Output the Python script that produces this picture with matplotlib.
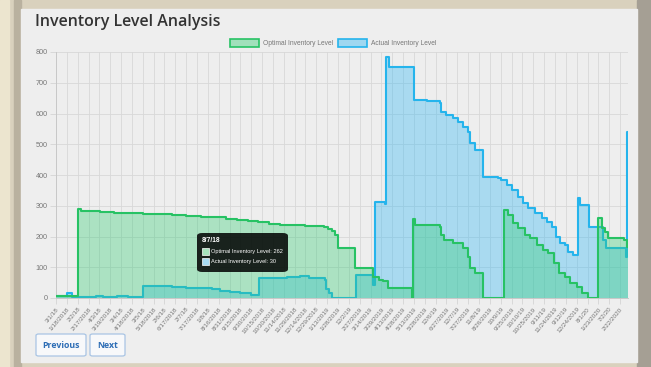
import matplotlib
matplotlib.use("Agg")
import matplotlib.pyplot as plt
from matplotlib.patches import Rectangle, FancyBboxPatch, Patch

# ---------------- data ----------------
tick_labels = ["3/1/18", "1/18/2018", "2/2/18", "2/17/2018", "4/3/18", "3/19/2018", "3/4/18",
               "4/18/2018", "3/5/18", "5/18/2018", "2/6/18", "6/17/2018", "2/7/18", "7/17/2018",
               "1/8/18", "8/16/2018", "8/31/2018", "9/15/2018", "9/30/2018", "10/15/2018",
               "10/30/2018", "11/14/2018", "11/29/2018", "12/14/2018", "12/29/2018", "1/13/2019",
               "1/28/2019", "12/2/19", "2/27/2019", "3/14/2019", "3/29/2019", "4/13/2019",
               "4/28/2019", "5/13/2019", "5/28/2019", "12/6/19", "6/27/2019", "12/7/19",
               "7/27/2019", "11/8/19", "8/26/2019", "10/9/19", "9/25/2019", "10/10/19",
               "10/25/2019", "9/11/19", "11/24/2019", "9/12/19", "12/24/2019", "8/1/20",
               "1/23/2020", "7/2/20", "2/22/2020"]
tick_step_days = 15
last_day = 791

# day index (0 = first date) where a new level starts, and the level
optimal_days = [0, 30, 34, 61, 80, 100, 120, 140, 160, 180, 200, 216, 235, 250, 265, 280,
                295, 310, 325, 345, 370, 376, 381, 386, 390, 414, 438, 446, 452, 459, 492,
                493, 496, 531, 533, 536, 549, 556, 563, 570, 573, 580, 591, 620, 625, 632,
                639, 649, 655, 665, 674, 681, 688, 695, 704, 711, 720, 727, 736, 750, 755,
                759, 764, 786, 789, 791]
optimal_vals = [5, 288, 283, 280, 278, 276, 274, 272, 270, 267, 265, 262, 258, 255, 250, 246,
                242, 239, 236, 234, 232, 225, 218, 205, 162, 97, 69, 60, 56, 31, 0,
                256, 237, 230, 205, 189, 178, 178, 162, 134, 97, 80, 0, 286, 270, 243,
                227, 205, 194, 172, 156, 146, 113, 80, 69, 48, 37, 15, 0, 259, 227,
                216, 194, 189, 167, 167]

actual_days = [0, 15, 22, 55, 65, 85, 100, 120, 140, 160, 180, 200, 216, 227, 240, 255,
               270, 281, 300, 320, 337, 350, 372, 374, 377, 382, 415, 438, 439, 441, 452,
               455, 457, 460, 461, 495, 513, 531, 533, 540, 549, 556, 563, 570, 573, 580,
               591, 611, 616, 623, 630, 639, 646, 653, 662, 672, 679, 686, 692, 697, 704,
               708, 715, 722, 724, 737, 757, 761, 788, 790, 791]
actual_vals = [6, 15, 4, 7, 3, 5, 3, 39, 38, 36, 34, 31, 30, 24, 20, 15,
               11, 65, 66, 68, 70, 66, 60, 30, 15, 0, 75, 67, 42, 311, 311,
               306, 783, 768, 750, 644, 640, 634, 605, 595, 584, 573, 557, 541, 503, 481,
               392, 389, 384, 367, 351, 330, 308, 292, 275, 259, 248, 232, 199, 178, 173,
               151, 140, 324, 302, 230, 189, 162, 134, 541, 541]

tooltip_title = "8/7/18"
tooltip_lines = ["Optimal Inventory Level: 262", "Actual Inventory Level: 30"]

# ---------------- style ----------------
W, H = 651, 367
GREEN = "#27c264"
GREEN_FILL = "#2ecc71"
BLUE = "#25b4ec"
BLUE_FILL = "#29b6f6"
PANEL = "#eeeeee"

fig = plt.figure(figsize=(W / 100, H / 100), dpi=100)
fig.patch.set_facecolor("#d9d1bd")


def fx(x):
    return x / W


def fy(y):
    return 1 - y / H


# frame
fig.patches.append(Rectangle((0, 0), fx(9), 1, transform=fig.transFigure,
                             color="#ece5cf", zorder=-3))
fig.patches.append(Rectangle((fx(14), 0), fx(7), 1, transform=fig.transFigure,
                             color="#b9b19f", zorder=-3))
fig.patches.append(Rectangle((fx(637), 0), fx(14), 1, transform=fig.transFigure,
                             color="#a59f94", zorder=-3))
fig.patches.append(Rectangle((fx(21), fy(362)), fx(616), (362 - 9) / H,
                             transform=fig.transFigure, color=PANEL, zorder=-2))

ax = fig.add_axes([fx(56), fy(298), fx(628 - 56), (298 - 52) / H])
ax.set_zorder(1)
ax.set_facecolor("none")

ax.fill_between(actual_days, actual_vals, 0, step="post", color=BLUE_FILL,
                alpha=0.35, lw=0, zorder=1)
ax.step(actual_days, actual_vals, where="post", color=BLUE, lw=1.5, zorder=2)
ax.fill_between(optimal_days, optimal_vals, 0, step="post", color=GREEN_FILL,
                alpha=0.35, lw=0, zorder=3)
ax.step(optimal_days, optimal_vals, where="post", color=GREEN, lw=1.5, zorder=4)

ax.set_xlim(0, last_day)
ax.set_ylim(0, 800)
ticks = [i * tick_step_days for i in range(len(tick_labels))]
ax.set_xticks(ticks)
ax.set_xticklabels(tick_labels, rotation=50, ha="right", rotation_mode="anchor",
                   fontsize=4.6, color="#777777", family="Liberation Sans")
ax.set_yticks(range(0, 801, 100))
ax.set_yticklabels([str(v) for v in range(0, 801, 100)], fontsize=5.2,
                   color="#777777", family="Liberation Sans")
ax.tick_params(axis="both", length=4, width=0.6, color="#d4d4d4", pad=2)
ax.grid(True, color="#d8d8d8", lw=0.6)
ax.set_axisbelow(True)
for s in ["top", "right"]:
    ax.spines[s].set_visible(False)
for s in ["left", "bottom"]:
    ax.spines[s].set_color("#c8c8c8")
    ax.spines[s].set_linewidth(0.7)

# title
fig.text(fx(35), fy(22), "Inventory Level Analysis", fontsize=11.5, fontweight="semibold",
         family="Open Sans", color="#333333", va="center", ha="left")

# legend
handles = [Patch(facecolor=(0.18, 0.8, 0.44, 0.4), edgecolor=GREEN, lw=1.2,
                 label="Optimal Inventory Level"),
           Patch(facecolor=(0.16, 0.71, 0.96, 0.4), edgecolor=BLUE, lw=1.2,
                 label="Actual Inventory Level")]
leg = fig.legend(handles=handles, loc="center", bbox_to_anchor=(fx(333), fy(43)),
                 ncol=2, frameon=False, fontsize=4.8, handlelength=4.3, handleheight=1.5,
                 columnspacing=0.8, handletextpad=0.6, borderaxespad=0)
for t in leg.get_texts():
    t.set_color("#777777")
    t.set_family("Liberation Sans")

# tooltip
tx0, ty0, tw, th = 197, 233, 91, 39
fig.patches.append(FancyBboxPatch((fx(tx0), fy(ty0 + th)), fx(tw), th / H,
                                  boxstyle="round,pad=0,rounding_size=0.008",
                                  transform=fig.transFigure, facecolor=(0, 0, 0, 0.85),
                                  edgecolor="none", zorder=10))
fig.text(fx(tx0 + 5), fy(ty0 + 7), tooltip_title, fontsize=4.8, fontweight="bold",
         color="white", va="center", family="Liberation Sans", zorder=11)
for i, (line, c) in enumerate(zip(tooltip_lines, [(0.65, 0.89, 0.74), (0.66, 0.86, 0.95)])):
    yy = ty0 + 18 + i * 10
    fig.patches.append(Rectangle((fx(tx0 + 5), fy(yy + 3.5)), fx(7), 7 / H,
                                 transform=fig.transFigure, facecolor=c,
                                 edgecolor="white", lw=0.5, zorder=11))
    fig.text(fx(tx0 + 14), fy(yy), line, fontsize=4.05, color="white", va="center",
             family="Liberation Sans", zorder=11)

# buttons
for label, x0, w in [("Previous", 36, 50), ("Next", 90, 35)]:
    fig.patches.append(FancyBboxPatch((fx(x0), fy(356)), fx(w), 22 / H,
                                      boxstyle="round,pad=0,rounding_size=0.004",
                                      transform=fig.transFigure, facecolor="#f7f8fa",
                                      edgecolor="#a9c4e4", lw=0.9, zorder=5))
    fig.text(fx(x0 + w / 2), fy(345), label, fontsize=6.3, fontweight="bold",
             color="#2d6db5", ha="center", va="center", family="Open Sans", zorder=6)

fig.savefig("out.png", dpi=100, facecolor=fig.get_facecolor())
